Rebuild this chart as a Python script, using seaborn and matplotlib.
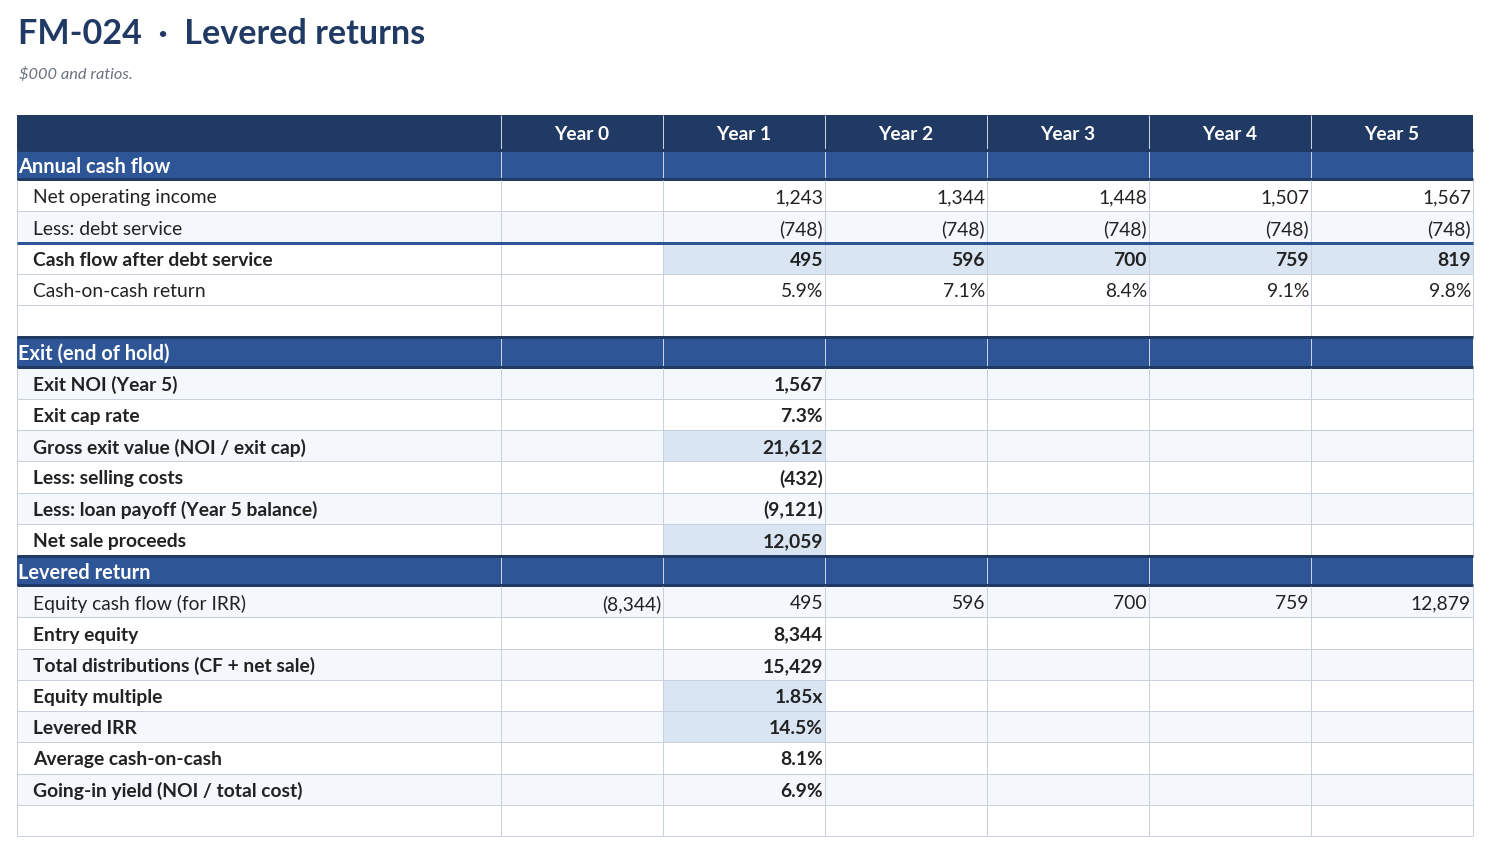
import matplotlib.pyplot as plt
import seaborn as sns

# === values ($000 and ratios)
years = ["Year 0", "Year 1", "Year 2", "Year 3", "Year 4", "Year 5"]
sections = ["Annual cash flow", "Exit (end of hold)", "Levered return"]

noi = [None, 1243, 1344, 1448, 1507, 1567]
debt_service = [None, -748, -748, -748, -748, -748]
cf_after_debt = [None, 495, 596, 700, 759, 819]
cash_on_cash = [None, 5.9, 7.1, 8.4, 9.1, 9.8]

exit_noi = 1567
exit_cap = 7.3
gross_exit = 21612
selling_costs = -432
loan_payoff = -9121
net_sale = 12059

equity_cf = [-8344, 495, 596, 700, 759, 12879]
entry_equity = 8344
total_distributions = 15429
equity_multiple = 1.85
levered_irr = 14.5
avg_coc = 8.1
going_in_yield = 6.9


def money(v):
    return f"({abs(v):,.0f})" if v < 0 else f"{v:,.0f}"


def pct(v):
    return f"{v:.1f}%"


def mult(v):
    return f"{v:.2f}x"


def y1(v):
    return [None, v, None, None, None, None]


# (kind, label, values, formatter, bold, striped, highlighted year columns)
rows = [
    ("section", sections[0]),
    ("data", "Net operating income", noi, money, False, False, []),
    ("data", "Less: debt service", debt_service, money, False, True, []),
    ("data", "Cash flow after debt service", cf_after_debt, money, True, False, [1, 2, 3, 4, 5]),
    ("data", "Cash-on-cash return", cash_on_cash, pct, False, False, []),
    ("data", "", [None] * 6, money, False, False, []),
    ("section", sections[1]),
    ("data", "Exit NOI (Year 5)", y1(exit_noi), money, True, True, []),
    ("data", "Exit cap rate", y1(exit_cap), pct, True, False, []),
    ("data", "Gross exit value (NOI / exit cap)", y1(gross_exit), money, True, True, [1]),
    ("data", "Less: selling costs", y1(selling_costs), money, True, False, []),
    ("data", "Less: loan payoff (Year 5 balance)", y1(loan_payoff), money, True, True, []),
    ("data", "Net sale proceeds", y1(net_sale), money, True, False, [1]),
    ("section", sections[2]),
    ("data", "Equity cash flow (for IRR)", equity_cf, money, False, True, []),
    ("data", "Entry equity", y1(entry_equity), money, True, False, []),
    ("data", "Total distributions (CF + net sale)", y1(total_distributions), money, True, True, []),
    ("data", "Equity multiple", y1(equity_multiple), mult, True, False, [1]),
    ("data", "Levered IRR", y1(levered_irr), pct, True, True, [1]),
    ("data", "Average cash-on-cash", y1(avg_coc), pct, True, False, []),
    ("data", "Going-in yield (NOI / total cost)", y1(going_in_yield), pct, True, True, []),
    ("data", "", [None] * 6, money, False, False, []),
]

# === style
sns.set_theme(style="white")
plt.rcParams["font.family"] = ["Lato", "DejaVu Sans"]

NAVY = "#213a63"
BLUE = "#2e5596"
STRIPE = "#f4f7fc"
HILITE = "#dae5f3"
GRID = "#c8d0dc"
TEXT = "#222222"

fig = plt.figure(figsize=(14.9, 8.54), dpi=100)
ax = fig.add_axes([0, 0, 1, 1])
ax.set_xlim(0, 1490)
ax.set_ylim(854, 0)
ax.axis("off")

edges = [17, 501, 663, 825, 987, 1149, 1311, 1473]
left, right = edges[0], edges[-1]
head_top, head_h = 116, 34
row_h = 31.23
body_top = head_top + head_h
px = 0.72  # one pixel in points

# title
ax.text(18, 44, "FM-024  \u00b7  Levered returns", fontsize=24.6, fontweight="bold",
        color=NAVY, va="baseline", ha="left")
ax.text(19, 79, "$000 and ratios.", fontsize=11.8, fontstyle="italic",
        color="#6b7280", va="baseline", ha="left")

# header
ax.barh(head_top + head_h / 2, right - left, left=left, height=head_h, color=NAVY, linewidth=0)
for i, yr in enumerate(years):
    cx = (edges[i + 1] + edges[i + 2]) / 2
    ax.text(cx, head_top + head_h / 2 + 2, yr, ha="center", va="center",
            fontsize=13.8, fontweight="bold", color="white")
ax.vlines(edges[1:-1], head_top, head_top + head_h, color="#c9d3e3", lw=px)

# body
for r, row in enumerate(rows):
    top = body_top + r * row_h
    cy = top + row_h / 2
    if row[0] == "section":
        ax.barh(cy, right - left, left=left, height=row_h, color=BLUE, linewidth=0)
        ax.vlines(edges[1:-1], top, top + row_h, color="#c9d3e3", lw=px)
        ax.hlines([top + 1, top + row_h - 1], left, right, color=NAVY, lw=3 * px)
        ax.text(left + 1, cy + 1, row[1], ha="left", va="center",
                fontsize=14.4, fontweight="bold", color="white")
        continue

    _, label, vals, fmt, bold, striped, hil = row
    ax.barh(cy, right - left, left=left, height=row_h,
            color=STRIPE if striped else "white", linewidth=0)
    for c in hil:
        ax.barh(cy, edges[c + 2] - edges[c + 1], left=edges[c + 1], height=row_h,
                color=HILITE, linewidth=0)
    ax.vlines(edges, top, top + row_h, color=GRID, lw=px)
    ax.hlines(top + row_h, left, right, color=GRID, lw=px)
    weight = "bold" if bold else "normal"
    ax.text(33, cy + 1, label, ha="left", va="center", fontsize=13.9,
            fontweight=weight, color=TEXT)
    for c, v in enumerate(vals):
        if v is None:
            continue
        ax.text(edges[c + 2] - 2, cy + 1, fmt(v), ha="right", va="center",
                fontsize=13.9, fontweight=weight, color=TEXT)

# rule under debt service
ax.hlines(body_top + 3 * row_h, left, right, color=BLUE, lw=3 * px)

fig.savefig("out.png", dpi=100)
